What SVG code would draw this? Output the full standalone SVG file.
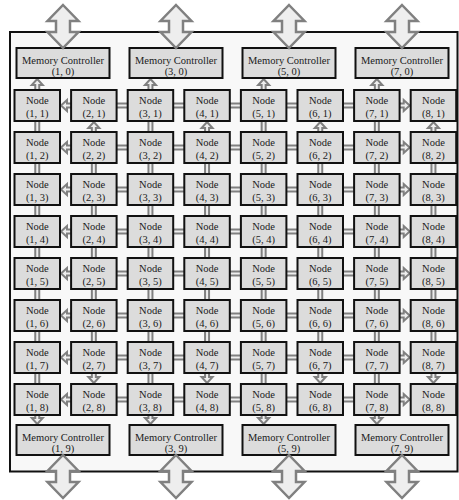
<svg xmlns="http://www.w3.org/2000/svg" width="459" height="500" viewBox="0 0 459 500">
<style>
.nd{fill:#dcdcdc;stroke:#111;stroke-width:2}
.t{font-family:"Liberation Serif","Times New Roman",serif;font-size:10.5px;text-anchor:middle;fill:#1a1a1a}
</style>
<defs>
<rect id="h" width="17.1" height="4"/>
<rect id="v" width="4" height="17"/>
<path id="au" d="M0,0 L5.5,6 L2,6 L2,14 L-2,14 L-2,6 L-5.5,6 Z"/>
<path id="ad" d="M0,0 L5.5,-6 L2,-6 L2,-14 L-2,-14 L-2,-6 L-5.5,-6 Z"/>
<path id="al" d="M0,0 L6,-5.5 L6,-2 L14,-2 L14,2 L6,2 L6,5.5 Z"/>
<path id="ar" d="M0,0 L-6,-5.5 L-6,-2 L-14,-2 L-14,2 L-6,2 L-6,5.5 Z"/>
<path id="big" d="M0,0 L15.5,16 L7,16 L7,27 L15.5,27 L0,43 L-15.5,27 L-7,27 L-7,16 L-15.5,16 Z"/>
</defs>
<rect x="10" y="32" width="447.5" height="439.5" fill="#f8f8f8" stroke="#111" stroke-width="2"/>
<g id="connectors" fill="#eeeeee" stroke="#808080" stroke-width="2">
<use href="#h" x="113.6" y="103.5"/><use href="#h" x="170.2" y="103.5"/><use href="#h" x="226.8" y="103.5"/><use href="#h" x="283.4" y="103.5"/><use href="#h" x="340" y="103.5"/>
<use href="#h" x="113.6" y="145.5"/><use href="#h" x="170.2" y="145.5"/><use href="#h" x="226.8" y="145.5"/><use href="#h" x="283.4" y="145.5"/><use href="#h" x="340" y="145.5"/>
<use href="#h" x="113.6" y="187.5"/><use href="#h" x="170.2" y="187.5"/><use href="#h" x="226.8" y="187.5"/><use href="#h" x="283.4" y="187.5"/><use href="#h" x="340" y="187.5"/>
<use href="#h" x="113.6" y="229.5"/><use href="#h" x="170.2" y="229.5"/><use href="#h" x="226.8" y="229.5"/><use href="#h" x="283.4" y="229.5"/><use href="#h" x="340" y="229.5"/>
<use href="#h" x="113.6" y="271.5"/><use href="#h" x="170.2" y="271.5"/><use href="#h" x="226.8" y="271.5"/><use href="#h" x="283.4" y="271.5"/><use href="#h" x="340" y="271.5"/>
<use href="#h" x="113.6" y="313.5"/><use href="#h" x="170.2" y="313.5"/><use href="#h" x="226.8" y="313.5"/><use href="#h" x="283.4" y="313.5"/><use href="#h" x="340" y="313.5"/>
<use href="#h" x="113.6" y="355.5"/><use href="#h" x="170.2" y="355.5"/><use href="#h" x="226.8" y="355.5"/><use href="#h" x="283.4" y="355.5"/><use href="#h" x="340" y="355.5"/>
<use href="#h" x="113.6" y="397.5"/><use href="#h" x="170.2" y="397.5"/><use href="#h" x="226.8" y="397.5"/><use href="#h" x="283.4" y="397.5"/><use href="#h" x="340" y="397.5"/>
<use href="#al" x="61" y="105.5"/><use href="#al" x="61" y="147.5"/><use href="#al" x="61" y="189.5"/><use href="#al" x="61" y="231.5"/><use href="#al" x="61" y="273.5"/><use href="#al" x="61" y="315.5"/><use href="#al" x="61" y="357.5"/><use href="#al" x="61" y="399.5"/>
<use href="#ar" x="409.7" y="105.5"/><use href="#ar" x="409.7" y="147.5"/><use href="#ar" x="409.7" y="189.5"/><use href="#ar" x="409.7" y="231.5"/><use href="#ar" x="409.7" y="273.5"/><use href="#ar" x="409.7" y="315.5"/><use href="#ar" x="409.7" y="357.5"/><use href="#ar" x="409.7" y="399.5"/>
<use href="#v" x="35.25" y="118"/><use href="#v" x="35.25" y="160"/><use href="#v" x="35.25" y="202"/><use href="#v" x="35.25" y="244"/><use href="#v" x="35.25" y="286"/><use href="#v" x="35.25" y="328"/><use href="#v" x="35.25" y="370"/>
<use href="#v" x="148.45" y="118"/><use href="#v" x="148.45" y="160"/><use href="#v" x="148.45" y="202"/><use href="#v" x="148.45" y="244"/><use href="#v" x="148.45" y="286"/><use href="#v" x="148.45" y="328"/><use href="#v" x="148.45" y="370"/>
<use href="#v" x="261.65" y="118"/><use href="#v" x="261.65" y="160"/><use href="#v" x="261.65" y="202"/><use href="#v" x="261.65" y="244"/><use href="#v" x="261.65" y="286"/><use href="#v" x="261.65" y="328"/><use href="#v" x="261.65" y="370"/>
<use href="#v" x="374.85" y="118"/><use href="#v" x="374.85" y="160"/><use href="#v" x="374.85" y="202"/><use href="#v" x="374.85" y="244"/><use href="#v" x="374.85" y="286"/><use href="#v" x="374.85" y="328"/><use href="#v" x="374.85" y="370"/>
<use href="#v" x="91.85" y="160"/><use href="#v" x="91.85" y="202"/><use href="#v" x="91.85" y="244"/><use href="#v" x="91.85" y="286"/><use href="#v" x="91.85" y="328"/>
<use href="#v" x="205.05" y="160"/><use href="#v" x="205.05" y="202"/><use href="#v" x="205.05" y="244"/><use href="#v" x="205.05" y="286"/><use href="#v" x="205.05" y="328"/>
<use href="#v" x="318.25" y="160"/><use href="#v" x="318.25" y="202"/><use href="#v" x="318.25" y="244"/><use href="#v" x="318.25" y="286"/><use href="#v" x="318.25" y="328"/>
<use href="#v" x="431.45" y="160"/><use href="#v" x="431.45" y="202"/><use href="#v" x="431.45" y="244"/><use href="#v" x="431.45" y="286"/><use href="#v" x="431.45" y="328"/>
<use href="#au" x="37.25" y="79"/><use href="#au" x="150.45" y="79"/><use href="#au" x="263.65" y="79"/><use href="#au" x="376.85" y="79"/>
<use href="#au" x="93.85" y="122"/><use href="#au" x="207.05" y="122"/><use href="#au" x="320.25" y="122"/><use href="#au" x="433.45" y="122"/>
<use href="#ad" x="93.85" y="383"/><use href="#ad" x="207.05" y="383"/><use href="#ad" x="320.25" y="383"/><use href="#ad" x="433.45" y="383"/>
<use href="#ad" x="37.25" y="424"/><use href="#ad" x="150.45" y="424"/><use href="#ad" x="263.65" y="424"/><use href="#ad" x="376.85" y="424"/>
</g>
<g id="memory-controllers" font-family="Liberation Serif, serif">
<g id="mc-1-0" transform="translate(16.5,48)"><rect class="nd" width="93" height="30"/><text class="t" x="46.5" y="15.5">Memory Controller</text><text class="t" x="46.5" y="26.7">(1, 0)</text></g>
<g id="mc-3-0" transform="translate(129.5,48)"><rect class="nd" width="93" height="30"/><text class="t" x="46.5" y="15.5">Memory Controller</text><text class="t" x="46.5" y="26.7">(3, 0)</text></g>
<g id="mc-5-0" transform="translate(242.5,48)"><rect class="nd" width="93" height="30"/><text class="t" x="46.5" y="15.5">Memory Controller</text><text class="t" x="46.5" y="26.7">(5, 0)</text></g>
<g id="mc-7-0" transform="translate(355.5,48)"><rect class="nd" width="93" height="30"/><text class="t" x="46.5" y="15.5">Memory Controller</text><text class="t" x="46.5" y="26.7">(7, 0)</text></g>
<g id="mc-1-9" transform="translate(16.5,425)"><rect class="nd" width="93" height="30"/><text class="t" x="46.5" y="15.5">Memory Controller</text><text class="t" x="46.5" y="26.7">(1, 9)</text></g>
<g id="mc-3-9" transform="translate(129.5,425)"><rect class="nd" width="93" height="30"/><text class="t" x="46.5" y="15.5">Memory Controller</text><text class="t" x="46.5" y="26.7">(3, 9)</text></g>
<g id="mc-5-9" transform="translate(242.5,425)"><rect class="nd" width="93" height="30"/><text class="t" x="46.5" y="15.5">Memory Controller</text><text class="t" x="46.5" y="26.7">(5, 9)</text></g>
<g id="mc-7-9" transform="translate(355.5,425)"><rect class="nd" width="93" height="30"/><text class="t" x="46.5" y="15.5">Memory Controller</text><text class="t" x="46.5" y="26.7">(7, 9)</text></g>
</g>
<g id="nodes" font-family="Liberation Serif, serif">
<g id="n-1-1" transform="translate(14.5,90)"><rect class="nd" width="45.5" height="31"/><text class="t" x="22.75" y="14">Node</text><text class="t" x="22.75" y="26.5">(1, 1)</text></g>
<g id="n-2-1" transform="translate(71.1,90)"><rect class="nd" width="45.5" height="31"/><text class="t" x="22.75" y="14">Node</text><text class="t" x="22.75" y="26.5">(2, 1)</text></g>
<g id="n-3-1" transform="translate(127.7,90)"><rect class="nd" width="45.5" height="31"/><text class="t" x="22.75" y="14">Node</text><text class="t" x="22.75" y="26.5">(3, 1)</text></g>
<g id="n-4-1" transform="translate(184.3,90)"><rect class="nd" width="45.5" height="31"/><text class="t" x="22.75" y="14">Node</text><text class="t" x="22.75" y="26.5">(4, 1)</text></g>
<g id="n-5-1" transform="translate(240.9,90)"><rect class="nd" width="45.5" height="31"/><text class="t" x="22.75" y="14">Node</text><text class="t" x="22.75" y="26.5">(5, 1)</text></g>
<g id="n-6-1" transform="translate(297.5,90)"><rect class="nd" width="45.5" height="31"/><text class="t" x="22.75" y="14">Node</text><text class="t" x="22.75" y="26.5">(6, 1)</text></g>
<g id="n-7-1" transform="translate(354.1,90)"><rect class="nd" width="45.5" height="31"/><text class="t" x="22.75" y="14">Node</text><text class="t" x="22.75" y="26.5">(7, 1)</text></g>
<g id="n-8-1" transform="translate(410.7,90)"><rect class="nd" width="45.5" height="31"/><text class="t" x="22.75" y="14">Node</text><text class="t" x="22.75" y="26.5">(8, 1)</text></g>
<g id="n-1-2" transform="translate(14.5,132)"><rect class="nd" width="45.5" height="31"/><text class="t" x="22.75" y="14">Node</text><text class="t" x="22.75" y="26.5">(1, 2)</text></g>
<g id="n-2-2" transform="translate(71.1,132)"><rect class="nd" width="45.5" height="31"/><text class="t" x="22.75" y="14">Node</text><text class="t" x="22.75" y="26.5">(2, 2)</text></g>
<g id="n-3-2" transform="translate(127.7,132)"><rect class="nd" width="45.5" height="31"/><text class="t" x="22.75" y="14">Node</text><text class="t" x="22.75" y="26.5">(3, 2)</text></g>
<g id="n-4-2" transform="translate(184.3,132)"><rect class="nd" width="45.5" height="31"/><text class="t" x="22.75" y="14">Node</text><text class="t" x="22.75" y="26.5">(4, 2)</text></g>
<g id="n-5-2" transform="translate(240.9,132)"><rect class="nd" width="45.5" height="31"/><text class="t" x="22.75" y="14">Node</text><text class="t" x="22.75" y="26.5">(5, 2)</text></g>
<g id="n-6-2" transform="translate(297.5,132)"><rect class="nd" width="45.5" height="31"/><text class="t" x="22.75" y="14">Node</text><text class="t" x="22.75" y="26.5">(6, 2)</text></g>
<g id="n-7-2" transform="translate(354.1,132)"><rect class="nd" width="45.5" height="31"/><text class="t" x="22.75" y="14">Node</text><text class="t" x="22.75" y="26.5">(7, 2)</text></g>
<g id="n-8-2" transform="translate(410.7,132)"><rect class="nd" width="45.5" height="31"/><text class="t" x="22.75" y="14">Node</text><text class="t" x="22.75" y="26.5">(8, 2)</text></g>
<g id="n-1-3" transform="translate(14.5,174)"><rect class="nd" width="45.5" height="31"/><text class="t" x="22.75" y="14">Node</text><text class="t" x="22.75" y="26.5">(1, 3)</text></g>
<g id="n-2-3" transform="translate(71.1,174)"><rect class="nd" width="45.5" height="31"/><text class="t" x="22.75" y="14">Node</text><text class="t" x="22.75" y="26.5">(2, 3)</text></g>
<g id="n-3-3" transform="translate(127.7,174)"><rect class="nd" width="45.5" height="31"/><text class="t" x="22.75" y="14">Node</text><text class="t" x="22.75" y="26.5">(3, 3)</text></g>
<g id="n-4-3" transform="translate(184.3,174)"><rect class="nd" width="45.5" height="31"/><text class="t" x="22.75" y="14">Node</text><text class="t" x="22.75" y="26.5">(4, 3)</text></g>
<g id="n-5-3" transform="translate(240.9,174)"><rect class="nd" width="45.5" height="31"/><text class="t" x="22.75" y="14">Node</text><text class="t" x="22.75" y="26.5">(5, 3)</text></g>
<g id="n-6-3" transform="translate(297.5,174)"><rect class="nd" width="45.5" height="31"/><text class="t" x="22.75" y="14">Node</text><text class="t" x="22.75" y="26.5">(6, 3)</text></g>
<g id="n-7-3" transform="translate(354.1,174)"><rect class="nd" width="45.5" height="31"/><text class="t" x="22.75" y="14">Node</text><text class="t" x="22.75" y="26.5">(7, 3)</text></g>
<g id="n-8-3" transform="translate(410.7,174)"><rect class="nd" width="45.5" height="31"/><text class="t" x="22.75" y="14">Node</text><text class="t" x="22.75" y="26.5">(8, 3)</text></g>
<g id="n-1-4" transform="translate(14.5,216)"><rect class="nd" width="45.5" height="31"/><text class="t" x="22.75" y="14">Node</text><text class="t" x="22.75" y="26.5">(1, 4)</text></g>
<g id="n-2-4" transform="translate(71.1,216)"><rect class="nd" width="45.5" height="31"/><text class="t" x="22.75" y="14">Node</text><text class="t" x="22.75" y="26.5">(2, 4)</text></g>
<g id="n-3-4" transform="translate(127.7,216)"><rect class="nd" width="45.5" height="31"/><text class="t" x="22.75" y="14">Node</text><text class="t" x="22.75" y="26.5">(3, 4)</text></g>
<g id="n-4-4" transform="translate(184.3,216)"><rect class="nd" width="45.5" height="31"/><text class="t" x="22.75" y="14">Node</text><text class="t" x="22.75" y="26.5">(4, 4)</text></g>
<g id="n-5-4" transform="translate(240.9,216)"><rect class="nd" width="45.5" height="31"/><text class="t" x="22.75" y="14">Node</text><text class="t" x="22.75" y="26.5">(5, 4)</text></g>
<g id="n-6-4" transform="translate(297.5,216)"><rect class="nd" width="45.5" height="31"/><text class="t" x="22.75" y="14">Node</text><text class="t" x="22.75" y="26.5">(6, 4)</text></g>
<g id="n-7-4" transform="translate(354.1,216)"><rect class="nd" width="45.5" height="31"/><text class="t" x="22.75" y="14">Node</text><text class="t" x="22.75" y="26.5">(7, 4)</text></g>
<g id="n-8-4" transform="translate(410.7,216)"><rect class="nd" width="45.5" height="31"/><text class="t" x="22.75" y="14">Node</text><text class="t" x="22.75" y="26.5">(8, 4)</text></g>
<g id="n-1-5" transform="translate(14.5,258)"><rect class="nd" width="45.5" height="31"/><text class="t" x="22.75" y="14">Node</text><text class="t" x="22.75" y="26.5">(1, 5)</text></g>
<g id="n-2-5" transform="translate(71.1,258)"><rect class="nd" width="45.5" height="31"/><text class="t" x="22.75" y="14">Node</text><text class="t" x="22.75" y="26.5">(2, 5)</text></g>
<g id="n-3-5" transform="translate(127.7,258)"><rect class="nd" width="45.5" height="31"/><text class="t" x="22.75" y="14">Node</text><text class="t" x="22.75" y="26.5">(3, 5)</text></g>
<g id="n-4-5" transform="translate(184.3,258)"><rect class="nd" width="45.5" height="31"/><text class="t" x="22.75" y="14">Node</text><text class="t" x="22.75" y="26.5">(4, 5)</text></g>
<g id="n-5-5" transform="translate(240.9,258)"><rect class="nd" width="45.5" height="31"/><text class="t" x="22.75" y="14">Node</text><text class="t" x="22.75" y="26.5">(5, 5)</text></g>
<g id="n-6-5" transform="translate(297.5,258)"><rect class="nd" width="45.5" height="31"/><text class="t" x="22.75" y="14">Node</text><text class="t" x="22.75" y="26.5">(6, 5)</text></g>
<g id="n-7-5" transform="translate(354.1,258)"><rect class="nd" width="45.5" height="31"/><text class="t" x="22.75" y="14">Node</text><text class="t" x="22.75" y="26.5">(7, 5)</text></g>
<g id="n-8-5" transform="translate(410.7,258)"><rect class="nd" width="45.5" height="31"/><text class="t" x="22.75" y="14">Node</text><text class="t" x="22.75" y="26.5">(8, 5)</text></g>
<g id="n-1-6" transform="translate(14.5,300)"><rect class="nd" width="45.5" height="31"/><text class="t" x="22.75" y="14">Node</text><text class="t" x="22.75" y="26.5">(1, 6)</text></g>
<g id="n-2-6" transform="translate(71.1,300)"><rect class="nd" width="45.5" height="31"/><text class="t" x="22.75" y="14">Node</text><text class="t" x="22.75" y="26.5">(2, 6)</text></g>
<g id="n-3-6" transform="translate(127.7,300)"><rect class="nd" width="45.5" height="31"/><text class="t" x="22.75" y="14">Node</text><text class="t" x="22.75" y="26.5">(3, 6)</text></g>
<g id="n-4-6" transform="translate(184.3,300)"><rect class="nd" width="45.5" height="31"/><text class="t" x="22.75" y="14">Node</text><text class="t" x="22.75" y="26.5">(4, 6)</text></g>
<g id="n-5-6" transform="translate(240.9,300)"><rect class="nd" width="45.5" height="31"/><text class="t" x="22.75" y="14">Node</text><text class="t" x="22.75" y="26.5">(5, 6)</text></g>
<g id="n-6-6" transform="translate(297.5,300)"><rect class="nd" width="45.5" height="31"/><text class="t" x="22.75" y="14">Node</text><text class="t" x="22.75" y="26.5">(6, 6)</text></g>
<g id="n-7-6" transform="translate(354.1,300)"><rect class="nd" width="45.5" height="31"/><text class="t" x="22.75" y="14">Node</text><text class="t" x="22.75" y="26.5">(7, 6)</text></g>
<g id="n-8-6" transform="translate(410.7,300)"><rect class="nd" width="45.5" height="31"/><text class="t" x="22.75" y="14">Node</text><text class="t" x="22.75" y="26.5">(8, 6)</text></g>
<g id="n-1-7" transform="translate(14.5,342)"><rect class="nd" width="45.5" height="31"/><text class="t" x="22.75" y="14">Node</text><text class="t" x="22.75" y="26.5">(1, 7)</text></g>
<g id="n-2-7" transform="translate(71.1,342)"><rect class="nd" width="45.5" height="31"/><text class="t" x="22.75" y="14">Node</text><text class="t" x="22.75" y="26.5">(2, 7)</text></g>
<g id="n-3-7" transform="translate(127.7,342)"><rect class="nd" width="45.5" height="31"/><text class="t" x="22.75" y="14">Node</text><text class="t" x="22.75" y="26.5">(3, 7)</text></g>
<g id="n-4-7" transform="translate(184.3,342)"><rect class="nd" width="45.5" height="31"/><text class="t" x="22.75" y="14">Node</text><text class="t" x="22.75" y="26.5">(4, 7)</text></g>
<g id="n-5-7" transform="translate(240.9,342)"><rect class="nd" width="45.5" height="31"/><text class="t" x="22.75" y="14">Node</text><text class="t" x="22.75" y="26.5">(5, 7)</text></g>
<g id="n-6-7" transform="translate(297.5,342)"><rect class="nd" width="45.5" height="31"/><text class="t" x="22.75" y="14">Node</text><text class="t" x="22.75" y="26.5">(6, 7)</text></g>
<g id="n-7-7" transform="translate(354.1,342)"><rect class="nd" width="45.5" height="31"/><text class="t" x="22.75" y="14">Node</text><text class="t" x="22.75" y="26.5">(7, 7)</text></g>
<g id="n-8-7" transform="translate(410.7,342)"><rect class="nd" width="45.5" height="31"/><text class="t" x="22.75" y="14">Node</text><text class="t" x="22.75" y="26.5">(8, 7)</text></g>
<g id="n-1-8" transform="translate(14.5,384)"><rect class="nd" width="45.5" height="31"/><text class="t" x="22.75" y="14">Node</text><text class="t" x="22.75" y="26.5">(1, 8)</text></g>
<g id="n-2-8" transform="translate(71.1,384)"><rect class="nd" width="45.5" height="31"/><text class="t" x="22.75" y="14">Node</text><text class="t" x="22.75" y="26.5">(2, 8)</text></g>
<g id="n-3-8" transform="translate(127.7,384)"><rect class="nd" width="45.5" height="31"/><text class="t" x="22.75" y="14">Node</text><text class="t" x="22.75" y="26.5">(3, 8)</text></g>
<g id="n-4-8" transform="translate(184.3,384)"><rect class="nd" width="45.5" height="31"/><text class="t" x="22.75" y="14">Node</text><text class="t" x="22.75" y="26.5">(4, 8)</text></g>
<g id="n-5-8" transform="translate(240.9,384)"><rect class="nd" width="45.5" height="31"/><text class="t" x="22.75" y="14">Node</text><text class="t" x="22.75" y="26.5">(5, 8)</text></g>
<g id="n-6-8" transform="translate(297.5,384)"><rect class="nd" width="45.5" height="31"/><text class="t" x="22.75" y="14">Node</text><text class="t" x="22.75" y="26.5">(6, 8)</text></g>
<g id="n-7-8" transform="translate(354.1,384)"><rect class="nd" width="45.5" height="31"/><text class="t" x="22.75" y="14">Node</text><text class="t" x="22.75" y="26.5">(7, 8)</text></g>
<g id="n-8-8" transform="translate(410.7,384)"><rect class="nd" width="45.5" height="31"/><text class="t" x="22.75" y="14">Node</text><text class="t" x="22.75" y="26.5">(8, 8)</text></g>
</g>
<g id="io-arrows" fill="#eeeeee" stroke="#808080" stroke-width="2.5">
<use href="#big" x="63" y="5"/><use href="#big" x="176" y="5"/><use href="#big" x="289" y="5"/><use href="#big" x="402" y="5"/>
<use href="#big" x="63" y="455"/><use href="#big" x="176" y="455"/><use href="#big" x="289" y="455"/><use href="#big" x="402" y="455"/>
</g>
</svg>
